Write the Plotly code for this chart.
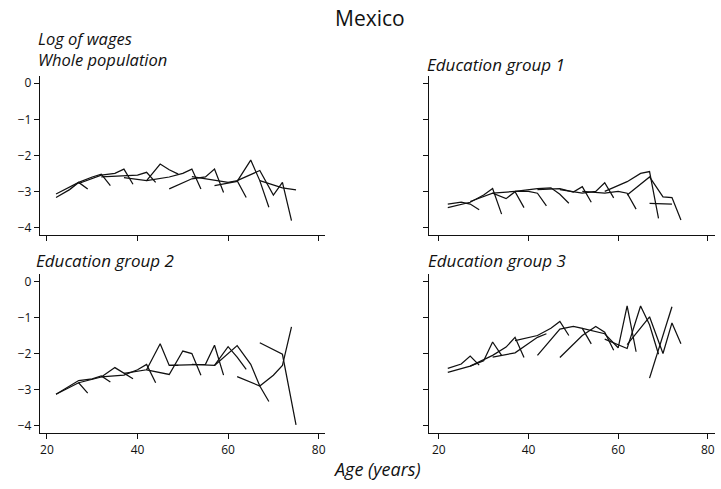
import plotly.graph_objects as go

# Survey years and the age each birth cohort reached in the last survey
survey_years = [1984, 1989, 1992, 1994, 1996]
cohort_age_1996 = [29, 34, 39, 44, 49, 54, 59, 64, 69, 74, 79]

# Mean log wages by cohort (rows) and survey year (columns); None = not observed
whole_population = [
    [None, -3.17, -2.95, -2.75, -2.93],
    [-3.07, -2.75, -2.60, -2.52, -2.84],
    [-2.78, -2.55, -2.50, -2.38, -2.80],
    [-2.60, -2.56, -2.55, -2.47, -2.75],
    [-2.62, -2.70, -2.24, -2.40, -2.52],
    [-2.70, -2.60, -2.50, -2.38, -2.93],
    [-2.93, -2.65, -2.60, -2.38, -3.03],
    [-2.59, -2.70, -2.75, -2.70, -3.17],
    [-2.84, -2.72, -2.13, -2.70, -3.44],
    [-2.70, -2.42, -3.10, -2.75, -3.81],
    [-2.70, -2.90, -2.96, None, None],
]
education_group_1 = [
    [None, -3.35, -3.30, -3.35, -3.51],
    [-3.45, -3.30, -3.10, -2.92, -3.63],
    [-3.28, -3.05, -3.20, -3.01, -3.45],
    [-3.05, -3.00, -3.00, -3.05, -3.40],
    [-3.00, -2.92, -2.90, -3.08, -3.33],
    [-2.95, -2.92, -3.02, -2.87, -3.30],
    [-2.95, -3.05, -3.00, -2.76, -3.18],
    [-3.00, -3.05, -3.00, -3.05, -3.49],
    [-3.00, -2.73, -2.50, -2.45, -3.75],
    [-3.10, -2.60, -3.15, -3.17, -3.79],
    [-3.33, -3.35, None, None, None],
]
education_group_2 = [
    [None, -3.13, -2.95, -2.81, -3.10],
    [-3.13, -2.75, -2.70, -2.62, -2.79],
    [-2.81, -2.65, -2.39, -2.55, -2.70],
    [-2.65, -2.60, -2.45, -2.30, -2.81],
    [-2.55, -2.45, -1.73, -2.33, -2.33],
    [-2.45, -2.58, -1.93, -2.00, -2.60],
    [-2.33, -2.30, -2.30, -1.77, -2.60],
    [-2.30, -2.33, -1.81, -2.10, -2.44],
    [-2.33, -1.78, -2.30, -2.90, -3.33],
    [-2.64, -2.90, -2.60, -2.33, -1.26],
    [-1.70, -2.02, -3.98, None, None],
]
education_group_3 = [
    [None, -2.41, -2.29, -2.07, -2.32],
    [-2.52, -2.35, -2.20, -1.68, -2.05],
    [-2.35, -2.05, -1.82, -1.55, -2.11],
    [-2.10, -1.98, -1.72, -1.55, -1.45],
    [-1.64, -1.50, -1.30, -1.11, -1.50],
    [-2.05, -1.32, -1.25, -1.30, -1.73],
    [-2.11, -1.50, -1.25, -1.41, -1.91],
    [-1.30, -1.45, -1.84, -0.68, -1.95],
    [-1.60, -1.86, -0.68, -1.20, -2.02],
    [-1.75, -0.98, -2.00, -1.15, -1.73],
    [-2.68, -0.70, None, None, None],
]

panel_titles = ["Whole population", "Education group 1",
                "Education group 2", "Education group 3"]
x_ticks = [20, 40, 60, 80]
y_ticks = [0, -1, -2, -3, -4]

FONT = "Open Sans"
W, H = 721, 489

panels = [
    # data, xaxis id, yaxis id, x domain (px), y domain (px), x range, x labels, y labels
    (whole_population, "x", "y", (40, 325), (75, 235), (18.45, 81.3), False, True),
    (education_group_1, "x2", "y2", (430, 716), (75, 235), (17.9, 81.6), False, False),
    (education_group_2, "x3", "y3", (40, 325), (274, 434), (18.45, 81.3), True, True),
    (education_group_3, "x4", "y4", (430, 716), (274, 434), (17.9, 81.6), True, False),
]

fig = go.Figure()
layout = {}
for data, xa, ya, (x0, x1), (y0, y1), xr, show_x, show_y in panels:
    for age96, row in zip(cohort_age_1996, data):
        ages, vals = [], []
        for year, v in zip(survey_years, row):
            if v is not None:
                ages.append(age96 - (1996 - year))
                vals.append(v)
        fig.add_trace(go.Scatter(
            x=ages, y=vals, mode="lines", xaxis=xa, yaxis=ya,
            line=dict(color="#111111", width=1.25), showlegend=False,
            hoverinfo="skip"))
    xkey = "xaxis" + xa[1:]
    ykey = "yaxis" + ya[1:]
    layout[xkey] = dict(
        domain=[x0 / W, x1 / W], range=list(xr), anchor=ya,
        tickmode="array", tickvals=x_ticks, showticklabels=show_x,
        ticks="outside", ticklen=5, tickwidth=1, tickcolor="#111",
        showline=True, linecolor="#111", linewidth=1.2,
        showgrid=False, zeroline=False,
        tickfont=dict(family=FONT, size=12, color="#111"))
    layout[ykey] = dict(
        domain=[1 - y1 / H, 1 - y0 / H], range=[-4.21, 0.21], anchor=xa,
        tickmode="array", tickvals=y_ticks, showticklabels=show_y,
        ticks="outside", ticklen=5, tickwidth=1, tickcolor="#111",
        showline=True, linecolor="#111", linewidth=1.2,
        showgrid=False, zeroline=False,
        tickfont=dict(family=FONT, size=12, color="#111"))

def label(text, x, y, size, italic=True, anchor="left"):
    return dict(
        text=f"<i>{text}</i>" if italic else text,
        x=x / W, y=1 - y / H, xref="paper", yref="paper",
        xanchor=anchor, yanchor="middle", showarrow=False, align="left",
        font=dict(family=FONT, size=size, color="#111"))

annotations = [
    label("Mexico", 371, 17, 21, italic=False, anchor="center"),
    label("Log of wages<br>" + panel_titles[0], 36, 48, 16.5),
    label(panel_titles[1], 426, 64, 17),
    label(panel_titles[2], 34, 261, 17),
    label(panel_titles[3], 427, 261, 17),
    label("Age (years)", 378, 470, 18, anchor="center"),
]

fig.update_layout(
    width=W, height=H, margin=dict(l=0, r=0, t=0, b=0),
    paper_bgcolor="white", plot_bgcolor="white",
    annotations=annotations, **layout)

fig.write_html("out.html")
